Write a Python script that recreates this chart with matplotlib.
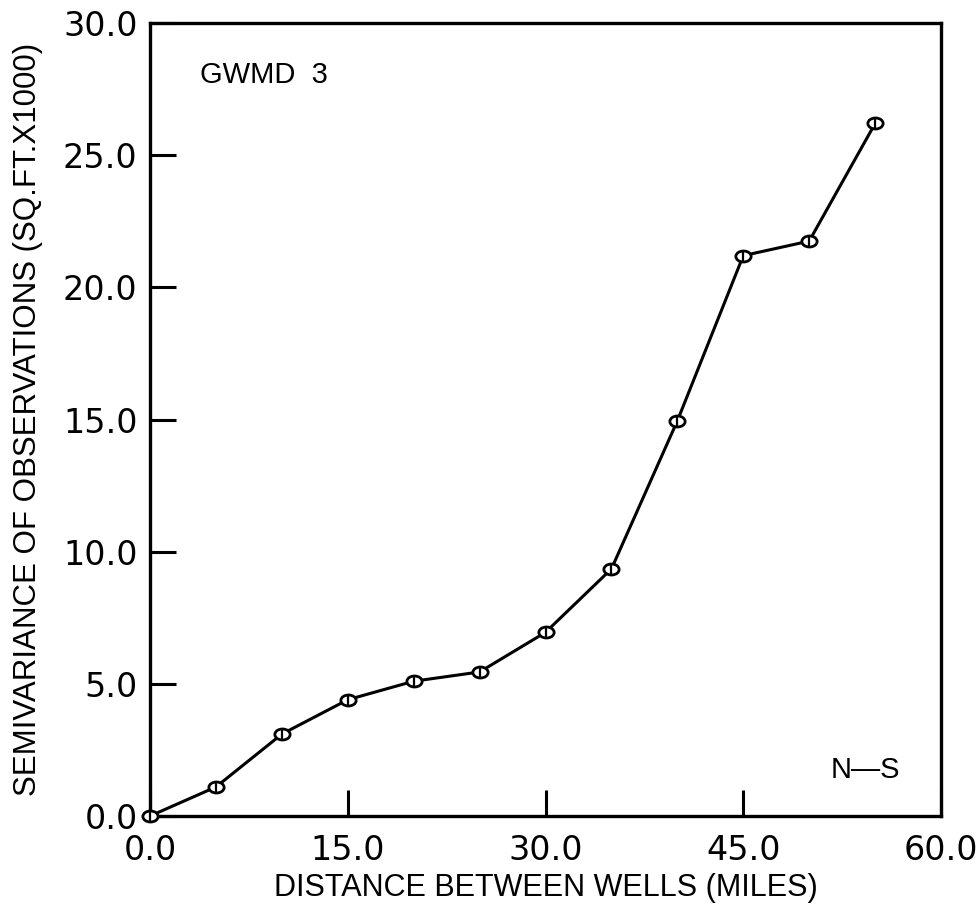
import matplotlib
matplotlib.use("Agg")
import matplotlib.pyplot as plt
from matplotlib.path import Path
import numpy as np

# Semivariogram, GWMD 3, north-south direction
distance_miles = [0, 5, 10, 15, 20, 25, 30, 35, 40, 45, 50, 55]
semivariance = [0.0, 1.1, 3.1, 4.4, 5.1, 5.45, 6.95, 9.35, 14.95, 21.2, 21.75, 26.2]

x_ticks = [0, 15, 30, 45, 60]
x_tick_labels = ["0.0", "15.0", "30.0", "45.0", "60.0"]
y_ticks = [0, 5, 10, 15, 20, 25, 30]
y_tick_labels = ["0.0", "5.0", "10.0", "15.0", "20.0", "25.0", "30.0"]

plt.rcParams["font.family"] = ["Liberation Sans", "DejaVu Sans"]

# flattened ring marker with a vertical bar through it
circ = Path.unit_circle()
ellipse = Path(circ.vertices * np.array([1.0, 0.72]), circ.codes)

fig = plt.figure(figsize=(9.78, 9.07), dpi=100)
ax = fig.add_axes([0.1534, 0.1003, 0.8088, 0.8743])

ax.plot(distance_miles, semivariance, color="black", linewidth=2.2,
        marker=ellipse, markersize=11, markerfacecolor="white",
        markeredgecolor="black", markeredgewidth=2.0, zorder=3, clip_on=False)
ax.plot(distance_miles, semivariance, linestyle="none", marker="|",
        markersize=7, markeredgecolor="black", markeredgewidth=1.6,
        zorder=4, clip_on=False)

ax.set_xlim(0, 60)
ax.set_ylim(0, 30)
ax.set_xticks(x_ticks)
ax.set_xticklabels(x_tick_labels, family="DejaVu Sans")
ax.set_yticks(y_ticks)
ax.set_yticklabels(y_tick_labels, family="DejaVu Sans")

ax.tick_params(axis="both", direction="in", length=19, width=2.2,
               labelsize=24, colors="black")
ax.tick_params(axis="x", pad=13)
ax.tick_params(axis="y", pad=9)

for spine in ax.spines.values():
    spine.set_linewidth(2.4)

ax.set_xlabel("DISTANCE BETWEEN WELLS (MILES)", fontsize=22, labelpad=4)
ax.set_ylabel("SEMIVARIANCE OF OBSERVATIONS (SQ.FT.X1000)", fontsize=22.5,
              labelpad=14)

ax.text(0.063, 0.935, "GWMD  3", transform=ax.transAxes, fontsize=21,
        ha="left", va="center")
ax.text(0.948, 0.058, "N\u2014S", transform=ax.transAxes, fontsize=21,
        ha="right", va="center")

fig.savefig("out.png", dpi=100, facecolor="white")
